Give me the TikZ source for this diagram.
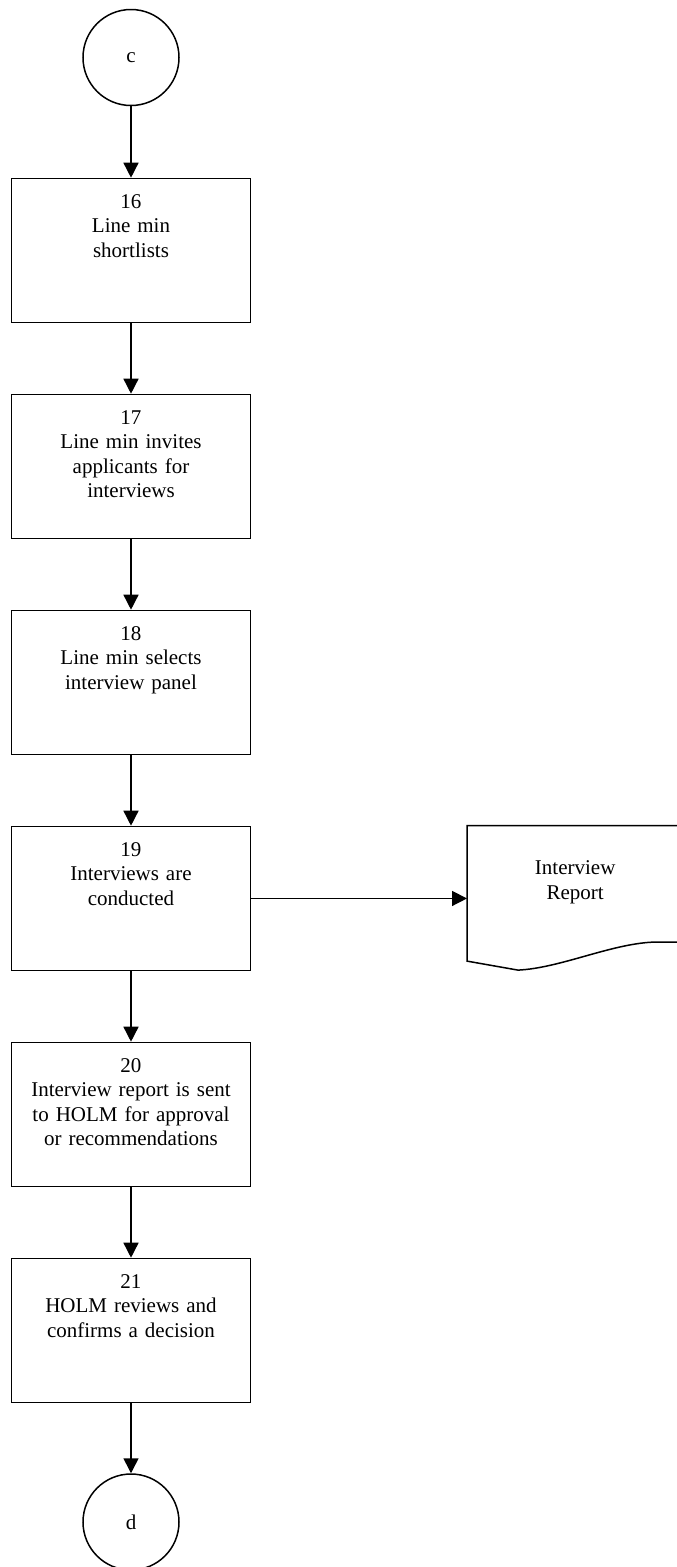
\documentclass[tikz,border=0pt]{standalone}
\usepackage{fontspec}
\setmainfont{Liberation Serif}
\usetikzlibrary{arrows.meta,calc}

\tikzset{
  flow/.style={line width=1.5pt, -{Triangle[width=15pt,length=15pt]}},
  stepbox/.style={draw, line width=1.5pt, inner sep=0pt, text width=239pt,
    align=center, text height=30pt, text depth=114pt, anchor=north},
  connector/.style={draw, line width=1.5pt, circle, minimum size=96pt, inner sep=0pt},
  docnode/.style={inner sep=0pt, text width=216pt, align=center,
    text height=49pt, text depth=95pt, anchor=north west}
}

\begin{document}
\begin{tikzpicture}[x=1pt, y=-1pt, font=\fontsize{21}{24.5}\selectfont]
  \useasboundingbox (0,0) rectangle (677,1567);

  % off-page connectors
  \node[connector] (c) at (131,57.5) {c};
  \node[connector] (d) at (131,1522) {d};

  % process steps
  \node[stepbox] (s16) at (131,177.7)  {16\\Line min\\shortlists};
  \node[stepbox] (s17) at (131,393.7)  {17\\Line min invites\\applicants for\\interviews};
  \node[stepbox] (s18) at (131,609.7)  {18\\Line min selects\\interview panel};
  \node[stepbox] (s19) at (131,825.7)  {19\\Interviews are\\conducted};
  \node[stepbox] (s20) at (131,1041.7) {20\\Interview report is sent\\to HOLM for approval\\or recommendations};
  \node[stepbox] (s21) at (131,1257.7) {21\\HOLM reviews and\\confirms a decision};

  % document produced by step 19
  \node[docnode] (doc) at (467,825.7) {Interview\\Report};
  \draw[line width=1.5pt]
    ($(doc.south west)+(0,-9)$) -- ($(doc.south west)+(51,0)$)
    .. controls ($(doc.south west)+(93,-2)$) and ($(doc.south west)+(143,-26)$)
    .. ($(doc.south west)+(186,-28)$) -- ($(doc.south east)+(0,-28)$)
    -- (doc.north east) -- (doc.north west) -- cycle;

  % flow
  \draw[flow] (c) -- (s16);
  \draw[flow] (s16) -- (s17);
  \draw[flow] (s17) -- (s18);
  \draw[flow] (s18) -- (s19);
  \draw[flow] (s19) -- (s20);
  \draw[flow] (s20) -- (s21);
  \draw[flow] (s21) -- (d);
  \draw[flow] (s19.east) -- (s19.east -| doc.west);
\end{tikzpicture}
\end{document}
